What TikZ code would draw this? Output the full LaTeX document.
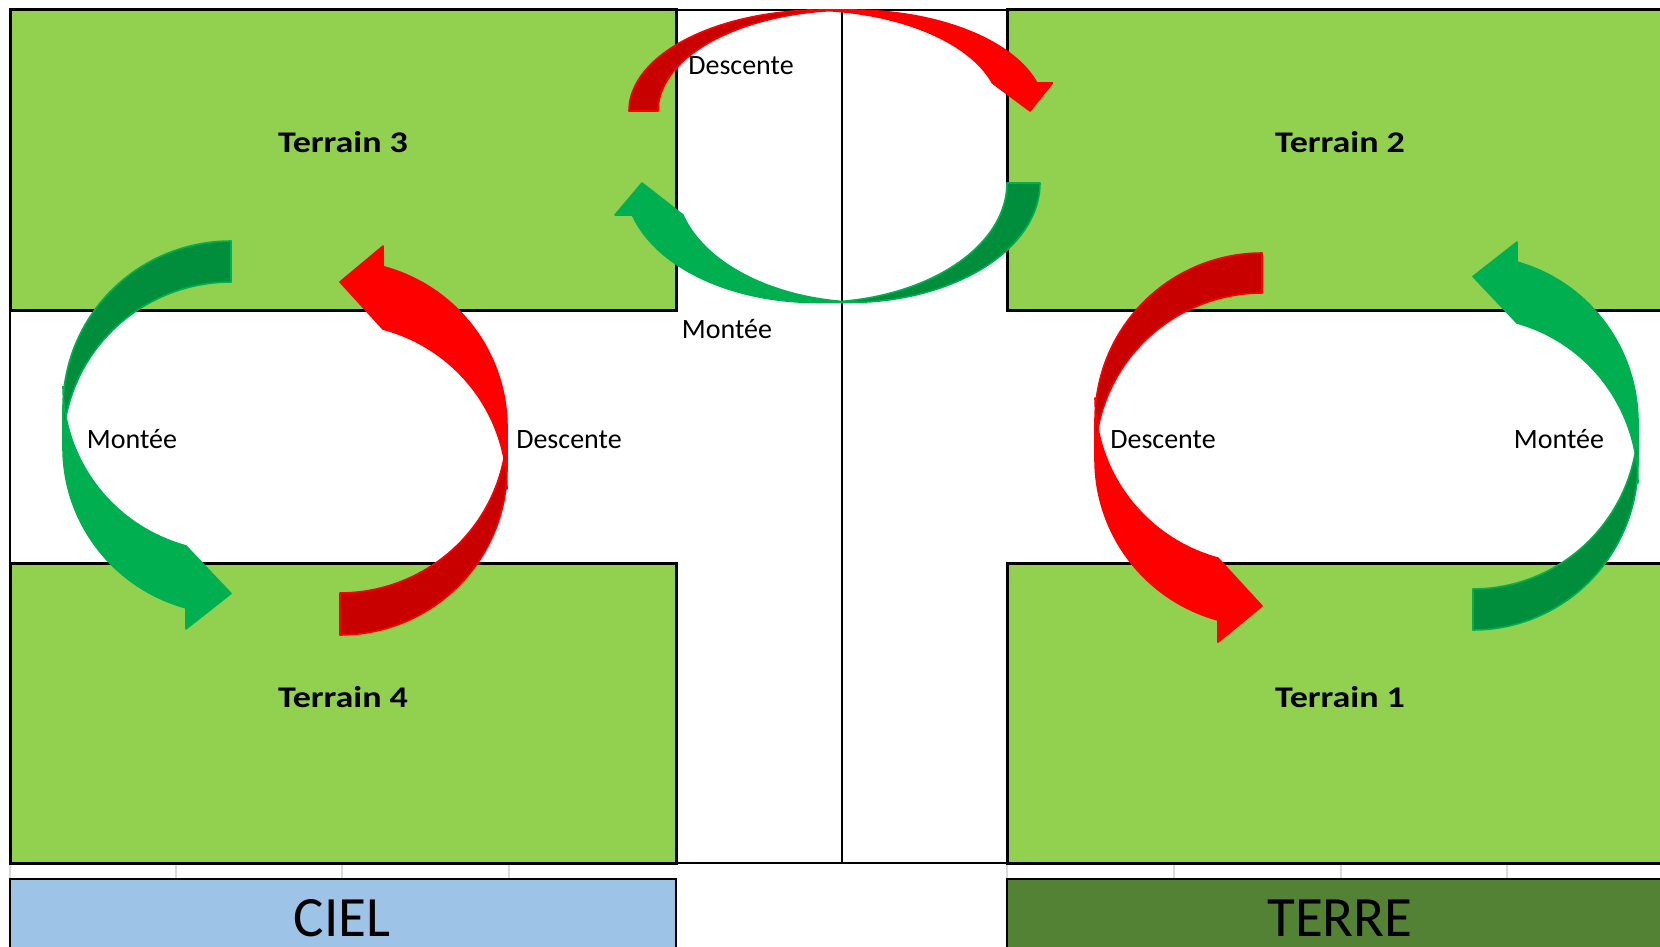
\documentclass[tikz,border=0pt]{standalone}
\usepackage{fontspec}
\setmainfont{Carlito}
\usepackage{graphicx}
\definecolor{terrain}{HTML}{92D050}
\definecolor{ciel}{HTML}{9DC3E6}
\definecolor{terre}{HTML}{548235}
\definecolor{redA}{HTML}{FF0000}
\definecolor{redB}{HTML}{C80000}
\definecolor{grnA}{HTML}{00B050}
\definecolor{grnB}{HTML}{008E3C}
\definecolor{tickc}{HTML}{D9D9D9}

\newcommand\setarrow[5]{\def\cvW{#1}\def\cvH{#2}\def\cvT{#3}\def\cvAW{#4}\def\cvAH{#5}}
\newcommand\carrow[3]{%
\begin{scope}[#1]
\pgfmathsetmacro\cvwR{\cvW/2-(\cvT+\cvAW)/4}
\pgfmathsetmacro\cvdh{(\cvAW-\cvT)/2}
\pgfmathsetmacro\cvcA{\cvwR}
\pgfmathsetmacro\cvcB{\cvwR+\cvT}
\pgfmathsetmacro\cvcO{\cvwR-\cvdh}
\pgfmathsetmacro\cvphi{asin(\cvAH/\cvH)}
\pgfmathsetmacro\cvtA{acos(\cvT/(2*\cvwR))}
\pgfmathsetmacro\cvtB{180-\cvtA}
\pgfmathsetmacro\cvxF{\cvcB+\cvwR*cos(\cvphi)}
\pgfmathsetmacro\cvxG{\cvxF+\cvdh}
\pgfmathsetmacro\cvxD{\cvcO+\cvwR*cos(\cvphi)}
\pgfmathsetmacro\cvxT{\cvW-\cvAW/2}
\fill[#2] (\cvxT,0) -- (\cvxD,\cvAH)
  -- plot[domain=\cvphi:90,samples=40] ({\cvcO+\cvwR*cos(\x)},{\cvH*sin(\x)})
  -- plot[domain=90:\cvphi,samples=40] ({\cvcB+\cvwR*cos(\x)},{\cvH*sin(\x)})
  -- (\cvxG,\cvAH) -- cycle;
\fill[#3] plot[domain=\cvtB:180,samples=40] ({\cvcB+\cvwR*cos(\x)},{\cvH*sin(\x)})
  -- plot[domain=180:\cvtA,samples=60] ({\cvcA+\cvwR*cos(\x)},{\cvH*sin(\x)}) -- cycle;
\draw[#2, line width=0.8pt, line join=round]
  plot[domain=\cvtB:180,samples=40] ({\cvcB+\cvwR*cos(\x)},{\cvH*sin(\x)})
  -- plot[domain=180:90,samples=40] ({\cvcA+\cvwR*cos(\x)},{\cvH*sin(\x)})
  -- plot[domain=90:\cvphi,samples=40] ({\cvcB+\cvwR*cos(\x)},{\cvH*sin(\x)})
  -- (\cvxG,\cvAH) -- (\cvxT,0) -- (\cvxD,\cvAH)
  -- plot[domain=\cvphi:90,samples=40] ({\cvcO+\cvwR*cos(\x)},{\cvH*sin(\x)});
\end{scope}}

\begin{document}
\begin{tikzpicture}[x=0.5pt,y=-0.5pt,
  gridline/.style={black, line width=1pt},
  tickline/.style={tickc, line width=0.6pt},
  terrainbox/.style={fill=terrain, draw=black, line width=1.5pt},
  cielbox/.style={fill=ciel, draw=black, line width=1pt},
  terrebox/.style={fill=terre, draw=black, line width=1pt},
  tlabel/.style={anchor=base, inner sep=0pt, font=\fontsize{15}{18}\selectfont\bfseries},
  mlabel/.style={anchor=base, inner sep=0pt, font=\fontsize{14}{17}\selectfont},
  blabel/.style={anchor=base, inner sep=0pt, font=\fontsize{28.5}{34}\selectfont}]
\useasboundingbox (0,0) rectangle (1660,947);
\clip (0,0) rectangle (1660,947);
\fill[white] (0,0) rectangle (1660,947);

% grid
\draw[gridline] (10,10) -- (1700,10);
\draw[gridline] (10,10) -- (10,863);
\draw[gridline] (842,10) -- (842,863);
\draw[gridline] (10,863) -- (1700,863);
\foreach \t in {10,176,342,509,1007,1174,1341,1507}
  \draw[tickline] (\t,864) -- (\t,879);

% terrains
\draw[terrainbox] (10,10) rectangle (676,310);
\draw[terrainbox] (1007,10) rectangle (1680,310);
\draw[terrainbox] (10,563) rectangle (676,863);
\draw[terrainbox] (1007,563) rectangle (1680,863);

% legend boxes
\draw[cielbox] (10,879) rectangle (676,960);
\draw[terrebox] (1007,879) rectangle (1680,960);

% arrows
\setarrow{431}{101}{29}{60}{28}
\carrow{shift={(629,111)},x={(0.5pt,0pt)},y={(0pt,0.5pt)}}{redA}{redB}
\setarrow{432}{119.5}{33}{68}{32}
\carrow{shift={(1040,183)},x={(-0.5pt,0pt)},y={(0pt,-0.5pt)}}{grnA}{grnB}
\setarrow{394}{168}{41}{83}{45}
\carrow{shift={(231,241)},x={(0pt,-0.5pt)},y={(-0.5pt,0pt)}}{grnA}{grnB}
\setarrow{394.5}{167}{42}{83}{43}
\carrow{shift={(340,635)},x={(0pt,0.5pt)},y={(0.5pt,0pt)}}{redA}{redB}
\setarrow{395}{167}{40}{84}{44}
\carrow{shift={(1262,253)},x={(0pt,-0.5pt)},y={(-0.5pt,0pt)}}{redA}{redB}
\setarrow{394}{165}{41}{81}{44}
\carrow{shift={(1473,630)},x={(0pt,0.5pt)},y={(0.5pt,0pt)}}{grnA}{grnB}

% labels
\node[tlabel] (t3) at (343,153) {\scalebox{1.2}[1]{Terrain 3}};
\node[tlabel] (t2) at (1340,153) {\scalebox{1.2}[1]{Terrain 2}};
\node[tlabel] (t4) at (343,707) {\scalebox{1.2}[1]{Terrain 4}};
\node[tlabel] (t1) at (1340,707) {\scalebox{1.2}[1]{Terrain 1}};

\node[mlabel] (dtop) at (741,75) {Descente};
\node[mlabel] (mtop) at (727,338) {Montée};
\node[mlabel] (mleft) at (132,448) {Montée};
\node[mlabel] (dleft) at (569,448) {Descente};
\node[mlabel] (dright) at (1163,448) {Descente};
\node[mlabel] (mright) at (1559,448) {Montée};

\node[blabel] (ciel) at (342,936) {CIEL};
\node[blabel] (terre) at (1340,936) {TERRE};
\end{tikzpicture}
\end{document}
